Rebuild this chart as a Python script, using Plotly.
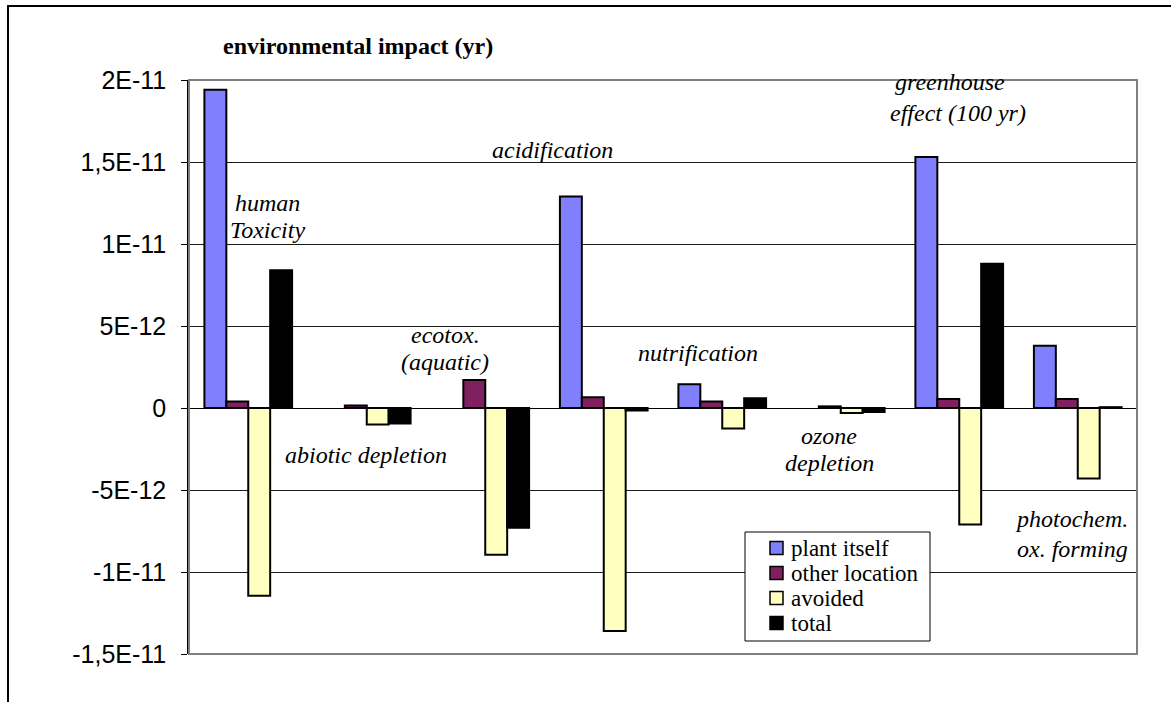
import plotly.graph_objects as go

# Impact categories along the x axis
categories = [
    "human Toxicity", "abiotic depletion", "ecotox. (aquatic)", "acidification",
    "nutrification", "ozone depletion", "greenhouse effect (100 yr)",
    "photochem. ox. forming",
]

# Environmental impact per category (yr); None = no bar
plant_itself = [1.94e-11, None, None, 1.29e-11, 1.45e-12, None, 1.53e-11, 3.8e-12]
other_location = [4.0e-13, 1.5e-13, 1.7e-12, 6.5e-13, 4.0e-13, 1.0e-13, 5.5e-13, 5.5e-13]
avoided = [-1.145e-11, -1.0e-12, -8.95e-12, -1.36e-11, -1.25e-12, -3.0e-13, -7.1e-12, -4.3e-12]
total = [8.4e-12, -9.5e-13, -7.3e-12, -1.5e-13, 6.0e-13, -2.5e-13, 8.8e-12, 5.0e-14]

series_names = ["plant itself", "other location", "avoided", "total"]
series_colors = ["#8080FF", "#802060", "#FFFFC0", "#000000"]

# Y axis ticks
tick_values = [2e-11, 1.5e-11, 1e-11, 5e-12, 0, -5e-12, -1e-11, -1.5e-11]
tick_labels = ["2E-11", "1,5E-11", "1E-11", "5E-12", "0", "-5E-12", "-1E-11", "-1,5E-11"]

# Category captions (text, centre x px, centre y px)
captions = [
    ("human", 267, 203), ("Toxicity", 267, 230),
    ("abiotic depletion", 366, 455),
    ("ecotox.", 445, 335), ("(aquatic)", 445, 362),
    ("acidification", 552, 150),
    ("nutrification", 698, 353),
    ("ozone", 829, 436), ("depletion", 829, 463),
    ("greenhouse", 950, 82), ("effect (100 yr)", 958, 113),
    ("photochem.", 1071, 519), ("ox. forming", 1072, 549),
]

SERIF = "Times New Roman, Liberation Serif, serif"
SANS = "Arial, Liberation Sans, sans-serif"

W, H = 1171, 702
L, R, T, B = 189, 1137, 80, 654  # plot area in pixels


def px_x(px):
    return (px - L) / (R - L)


def px_y(py):
    return (B - py) / (B - T)


fig = go.Figure()
for name, vals, color in zip(series_names, [plant_itself, other_location, avoided, total],
                             series_colors):
    fig.add_trace(go.Bar(
        x=categories, y=vals, name=name, showlegend=False,
        marker=dict(color=color, line=dict(color="black", width=2)),
    ))

annotations = [
    dict(text="<b>environmental impact (yr)</b>", x=px_x(221), y=px_y(46),
         xref="paper", yref="paper", xanchor="left", yanchor="middle",
         showarrow=False, font=dict(family=SERIF, size=24, color="black")),
]
for txt, cx, cy in captions:
    annotations.append(dict(
        text=f"<i>{txt}</i>", x=px_x(cx), y=px_y(cy), xref="paper", yref="paper",
        xanchor="center", yanchor="middle", showarrow=False,
        font=dict(family=SERIF, size=24, color="black"),
    ))

shapes = [
    # outer chart frame
    dict(type="rect", xref="paper", yref="paper",
         x0=px_x(8), x1=px_x(1400), y0=px_y(900), y1=px_y(6),
         line=dict(color="black", width=2), fillcolor="rgba(0,0,0,0)", layer="below"),
    # plot area border
    dict(type="rect", xref="paper", yref="paper", x0=0, x1=1, y0=0, y1=1,
         line=dict(color="#808080", width=2), fillcolor="rgba(0,0,0,0)", layer="above"),
    # legend box
    dict(type="rect", xref="paper", yref="paper",
         x0=px_x(745), x1=px_x(930), y0=px_y(641), y1=px_y(532),
         line=dict(color="black", width=1), fillcolor="white", layer="above"),
]

# legend entries: swatch + label per series
row_y = 548
for name, color in zip(series_names, series_colors):
    shapes.append(dict(
        type="rect", xref="paper", yref="paper",
        x0=px_x(770), x1=px_x(783), y0=px_y(row_y + 6.5), y1=px_y(row_y - 6.5),
        line=dict(color="black", width=1.5), fillcolor=color, layer="above",
    ))
    annotations.append(dict(
        text=name, x=px_x(789), y=px_y(row_y), xref="paper", yref="paper",
        xanchor="left", yanchor="middle", showarrow=False,
        font=dict(family=SERIF, size=23, color="black"),
    ))
    row_y += 25

fig.update_layout(
    width=W, height=H,
    margin=dict(l=L, r=W - R, t=T, b=H - B),
    paper_bgcolor="white", plot_bgcolor="white",
    barmode="group", bargap=0.26, bargroupgap=0,
    showlegend=False,
    annotations=annotations,
    shapes=shapes,
    xaxis=dict(showticklabels=False, showgrid=False, ticks="", showline=False,
               zeroline=False),
    yaxis=dict(
        range=[-1.5e-11, 2e-11], tickvals=tick_values, ticktext=tick_labels,
        showgrid=True, gridcolor="#1a1a1a", gridwidth=1,
        zeroline=True, zerolinecolor="black", zerolinewidth=1,
        showline=True, linecolor="black", linewidth=1.5,
        ticks="outside", ticklen=6, tickcolor="black", tickwidth=1,
        ticklabelstandoff=10,
        tickfont=dict(family=SANS, size=25, color="black"),
    ),
)

fig.write_html("out.html")
